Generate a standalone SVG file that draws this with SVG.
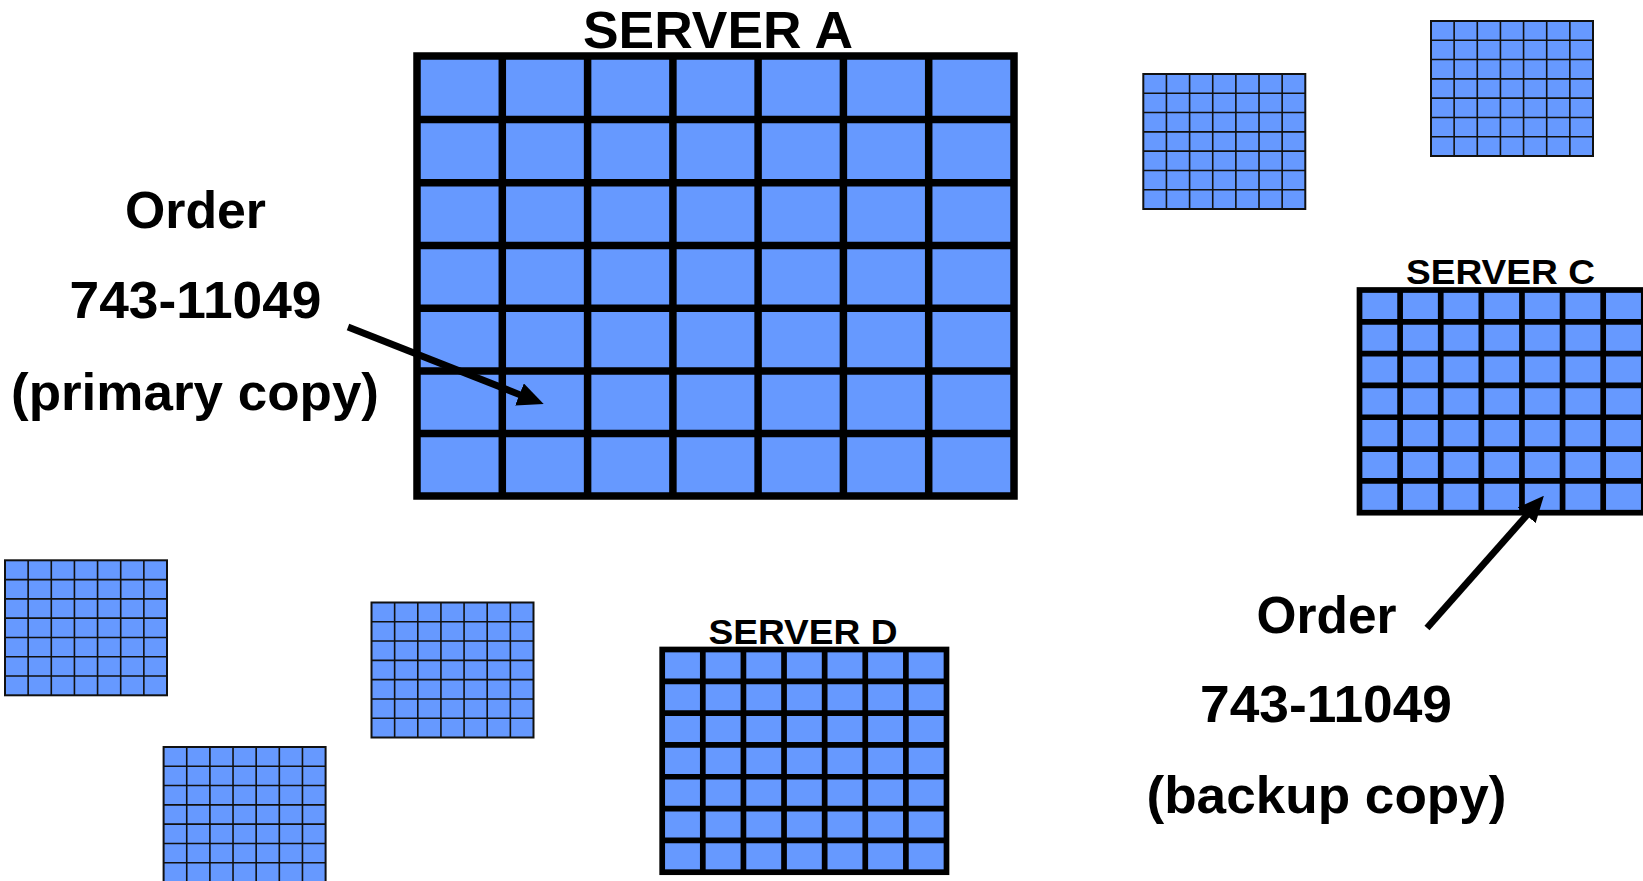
<svg xmlns="http://www.w3.org/2000/svg" xmlns:xlink="http://www.w3.org/1999/xlink" width="1643" height="881" viewBox="0 0 1643 881">
  <style>
    .cell { fill: #6699ff; }
    .big { stroke: #000; stroke-width: 7.5; fill: none; }
    .mid { stroke: #000; stroke-width: 5.7; fill: none; }
    .thin { stroke: #111; stroke-width: 1.6; fill: none; }
    .lbl { font-family: "Liberation Sans", Arial, Helvetica, sans-serif; font-weight: bold; fill: #000; text-anchor: middle; }
    .conn { stroke: #000; stroke-width: 6.8; fill: none; }
  </style>
  <defs>
    <!-- small 7x7 storage block -->
    <g id="mini">
      <rect class="cell" x="0" y="0" width="162" height="135"/>
      <path class="thin" d="M23.14,0V135M46.29,0V135M69.43,0V135M92.57,0V135M115.71,0V135M138.86,0V135M0,19.29H162M0,38.57H162M0,57.86H162M0,77.14H162M0,96.43H162M0,115.71H162"/>
      <rect class="thin" x="0" y="0" width="162" height="135" style="stroke-width:2"/>
    </g>
    <!-- medium 7x7 server grid -->
    <g id="midgrid">
      <rect class="cell" x="0" y="0" width="284.3" height="222.7"/>
      <path class="mid" d="M40.61,0V222.7M81.23,0V222.7M121.84,0V222.7M162.46,0V222.7M203.07,0V222.7M243.69,0V222.7M0,31.81H284.3M0,63.63H284.3M0,95.44H284.3M0,127.26H284.3M0,159.07H284.3M0,190.89H284.3"/>
      <rect class="mid" x="0" y="0" width="284.3" height="222.7"/>
    </g>
    <marker id="head" markerUnits="userSpaceOnUse" markerWidth="26" markerHeight="24" viewBox="0 0 24 22" refX="2" refY="11" orient="auto">
      <path d="M0,0 L24,11 L0,22 z" fill="#000"/>
    </marker>
  </defs>

  <!-- Server A: large primary server -->
  <g id="server-a">
    <rect class="cell" x="417" y="56" width="597" height="440"/>
    <path class="big" d="M502.3,56V496M587.6,56V496M672.9,56V496M758.1,56V496M843.4,56V496M928.7,56V496M417,119.4H1014M417,182.7H1014M417,245.6H1014M417,308.2H1014M417,371H1014M417,433.4H1014"/>
    <rect class="big" x="417" y="56" width="597" height="440"/>
    <text class="lbl" x="718" y="48" font-size="52" textLength="270" lengthAdjust="spacingAndGlyphs">SERVER A</text>
  </g>

  <!-- Server C -->
  <g id="server-c">
    <use xlink:href="#midgrid" x="1359.5" y="290"/>
    <text class="lbl" x="1500.5" y="284" font-size="35" textLength="189" lengthAdjust="spacingAndGlyphs">SERVER C</text>
  </g>

  <!-- Server D -->
  <g id="server-d">
    <use xlink:href="#midgrid" x="662.2" y="649.5"/>
    <text class="lbl" x="803" y="644" font-size="35" textLength="189" lengthAdjust="spacingAndGlyphs">SERVER D</text>
  </g>

  <!-- other unlabeled servers -->
  <g id="server-tr1"><use xlink:href="#mini" x="1143.3" y="74"/></g>
  <g id="server-tr2"><use xlink:href="#mini" x="1431" y="21"/></g>
  <g id="server-bl1"><use xlink:href="#mini" x="5" y="560.3"/></g>
  <g id="server-bl2"><use xlink:href="#mini" x="371.5" y="602.5"/></g>
  <g id="server-bl3"><use xlink:href="#mini" x="163.6" y="747"/></g>

  <!-- order labels -->
  <g id="label-primary">
    <text class="lbl" x="195.5" y="228" font-size="52" textLength="141" lengthAdjust="spacingAndGlyphs">Order</text>
    <text class="lbl" x="195.5" y="318" font-size="52" textLength="252" lengthAdjust="spacingAndGlyphs">743-11049</text>
    <text class="lbl" x="195" y="410" font-size="52" textLength="368" lengthAdjust="spacingAndGlyphs">(primary copy)</text>
  </g>
  <g id="label-backup">
    <text class="lbl" x="1326.5" y="633" font-size="52" textLength="140" lengthAdjust="spacingAndGlyphs">Order</text>
    <text class="lbl" x="1326" y="722" font-size="52" textLength="252" lengthAdjust="spacingAndGlyphs">743-11049</text>
    <text class="lbl" x="1326.5" y="813" font-size="52" textLength="360" lengthAdjust="spacingAndGlyphs">(backup copy)</text>
  </g>

  <!-- connectors -->
  <g id="connectors">
    <line class="conn" x1="348" y1="327" x2="521.5" y2="395.3" marker-end="url(#head)"/>
    <line class="conn" x1="1427" y1="628" x2="1528.1" y2="513.7" marker-end="url(#head)"/>
  </g>
</svg>
